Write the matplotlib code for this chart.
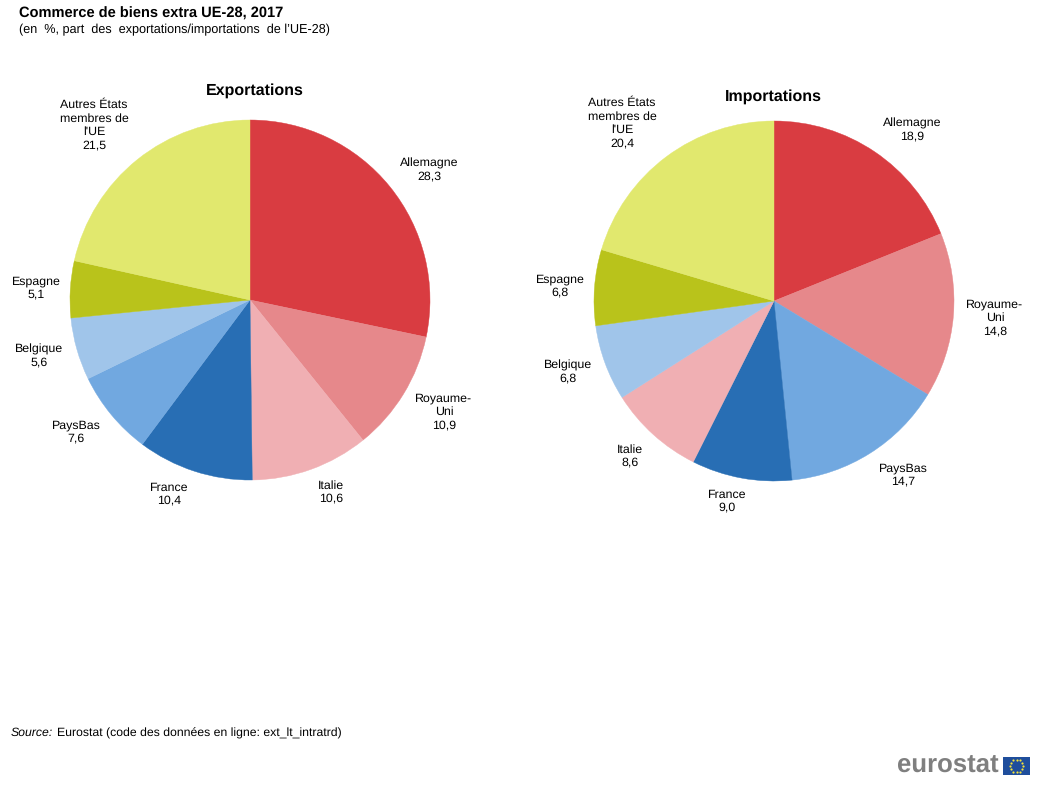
import matplotlib
matplotlib.use('Agg')
import matplotlib.pyplot as plt
import numpy as np
from matplotlib.patches import Rectangle

plt.rcParams['font.family'] = ['Liberation Sans', 'DejaVu Sans']
plt.rcParams['text.hinting'] = 'no_hinting'

W = 1046
H = 791

exp_labels = ['Allemagne', 'Royaume-\nUni', 'Italie', 'France', 'PaysBas', 'Belgique', 'Espagne',
              'Autres États\nmembres de\nl\'UE']
exp_values = [28.3, 10.9, 10.6, 10.4, 7.6, 5.6, 5.1, 21.5]
imp_labels = ['Allemagne', 'Royaume-\nUni', 'PaysBas', 'France', 'Italie', 'Belgique', 'Espagne',
              'Autres États\nmembres de\nl\'UE']
imp_values = [18.9, 14.8, 14.7, 9.0, 8.6, 6.8, 6.8, 20.4]

exp_colors = ['#D93C41', '#E6888B', '#F0AFB3', '#286EB4', '#71A8E0', '#A0C5EA', '#B9C31B', '#E1E86E']
imp_colors = ['#D93C41', '#E6888B', '#71A8E0', '#286EB4', '#F0AFB3', '#A0C5EA', '#B9C31B', '#E1E86E']

# label centres in pixels, measured on the reference
exp_pos = [(429, 170), (444, 412), (331, 492), (169, 494), (76, 432), (39, 356), (36, 288), (94, 125)]
imp_pos = [(912, 130), (995, 318), (903, 475), (727, 501), (630, 456), (568, 372), (560, 286), (622, 123)]


def txt(x, y, s, **kw):
    fig.text(x / W, 1 - y / H, s, **kw)


def draw_pie(cx, cy, r, values, colors, labels, pos, title, title_y):
    ax = fig.add_axes([(cx - r) / W, 1 - (cy + r) / H, 2 * r / W, 2 * r / H])
    wedges, _ = ax.pie(values, colors=colors, startangle=90, counterclock=False, radius=1)
    for w, c in zip(wedges, colors):
        w.set_edgecolor(c)
        w.set_linewidth(0.3)
    ax.set_xlim(-1, 1)
    ax.set_ylim(-1, 1)
    for lab, val, (x, y) in zip(labels, values, pos):
        s = lab + '\n' + '{:.1f}'.format(val).replace('.', ',')
        txt(x, y, s, ha='center', va='center', fontsize=8.9, linespacing=1.25, color='black')
    txt(cx + title[1], title_y, title[0], ha='center', va='center', fontsize=11.5, fontweight='bold')


fig = plt.figure(figsize=(W / 100, H / 100), dpi=100, facecolor='white')

draw_pie(250, 300, 180, exp_values, exp_colors, exp_labels, exp_pos, ('Exportations', 5), 91)
draw_pie(774, 301, 180, imp_values, imp_colors, imp_labels, imp_pos, ('Importations', -1), 97)

txt(19, 14, 'Commerce de biens extra UE-28, 2017', ha='left', va='center', fontsize=10.5, fontweight='bold')
txt(19, 30, '(en  %, part  des  exportations/importations  de l’UE-28)', ha='left', va='center', fontsize=9.05)

txt(11, 733, 'Source:', ha='left', va='center', fontsize=8.85, style='italic')
txt(57, 733, 'Eurostat (code des données en ligne: ext_lt_intratrd)', ha='left', va='center', fontsize=8.85)

# logo
txt(897, 766, 'eurostat', ha='left', va='center', fontsize=18.5, fontweight='bold', color='#7F7F7F')
flag = fig.add_axes([1003 / W, 1 - 775 / H, 27 / W, 18 / H])
flag.add_patch(Rectangle((0, 0), 1, 1, color='#1F4E9C'))
angles = np.arange(12) * np.pi / 6
flag.scatter(0.5 + 0.25 * np.cos(angles), 0.5 + 0.36 * np.sin(angles), s=2.5, color='#F5E33A', linewidths=0)
flag.set_xlim(0, 1)
flag.set_ylim(0, 1)
flag.axis('off')

fig.savefig('out.png', dpi=100)
